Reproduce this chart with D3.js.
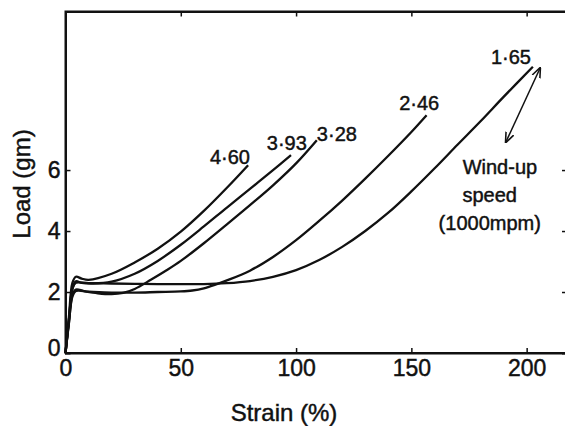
<!DOCTYPE html>
<html><head><meta charset="utf-8">
<script src="https://cdn.jsdelivr.net/npm/d3@7"></script>
<style>body{margin:0;background:#fff}svg{display:block}text{font-family:"Liberation Sans",Arial,sans-serif;fill:#111;stroke:#111;stroke-width:0.45px}</style>
</head><body><svg id="c" width="565" height="426"></svg>
<script>
const xTicks = [0, 50, 100, 150, 200];
const yTicks = [0, 2, 4, 6];
const speeds = ["4·60", "3·93", "3·28", "2·46", "1·65"];
const strain460 = [0,1.5,3,4.5,7,10,20,30,40,50,60,70,79.2];
const load460   = [0,1.2,2.3,2.5,2.44,2.4,2.6,2.97,3.42,3.98,4.66,5.42,6.16];
const strain393 = [0,1.5,3,4.5,7,12,20,30,40,50,60,70,80,90,97.8];
const load393   = [0,1.1,2.1,2.35,2.3,2.28,2.34,2.6,3.02,3.55,4.15,4.77,5.38,6.0,6.49];
const strain328 = [0,1.5,3,4.5,8,14,20,25,30,37,44,50,60,70,80,90,100,109];
const load328   = [0,1.0,1.9,2.08,2.03,1.96,1.93,1.97,2.1,2.4,2.72,3.02,3.6,4.22,4.85,5.5,6.22,6.98];
const strain246 = [0,1.5,3,4.5,10,20,30,40,50,55,60,65,70,80,90,100,110,120,130,140,150,156.6];
const load246   = [0,1.0,1.85,2.03,2.01,1.98,1.98,2.0,2.02,2.05,2.12,2.24,2.38,2.7,3.15,3.7,4.33,5.0,5.72,6.47,7.25,7.8];
const strain165 = [0,1.5,3,4.5,10,20,30,40,50,60,70,80,90,100,110,120,130,140,150,160,170,180,190,202.7];
const load165   = [0,1.1,2.1,2.3,2.29,2.28,2.27,2.26,2.26,2.26,2.29,2.36,2.5,2.72,3.05,3.48,4.0,4.6,5.3,6.05,6.83,7.6,8.4,9.39];
const labelX = [71.3, 96, 117.7, 153.4, 193.2];
const labelY = [6.43, 6.89, 7.18, 8.2, 9.7];
const noteLines = ["Wind-up", "speed", "(1000mpm)"];
const noteX = [188.4, 184, 184];
const noteY = [6.1, 5.18, 4.26];
const arrowX = [205.8, 191];
const arrowY = [9.34, 6.92];

const svg = d3.select("#c");
const x = d3.scaleLinear().domain([0, 217.5]).range([65.5, 567]);
const y = d3.scaleLinear().domain([0, 11.2]).range([353, 11.5]);

const defs = svg.append("defs");
defs.append("marker").attr("id","ah").attr("viewBox","0 0 10 10").attr("refX",9).attr("refY",5)
  .attr("markerWidth",7).attr("markerHeight",7).attr("orient","auto-start-reverse")
  .append("path").attr("d","M0,1 L10,5 L0,9").attr("fill","none").attr("stroke","#111").attr("stroke-width",1.5);

// frame
svg.append("rect").attr("x", x(0)).attr("y", y(11.2)).attr("width", x(217.5)-x(0)).attr("height", y(0)-y(11.2))
  .attr("fill","none").attr("stroke","#111").attr("stroke-width",2);

// axes with inward ticks
const gx = svg.append("g").attr("transform",`translate(0,${y(0)})`)
  .call(d3.axisBottom(x).tickValues(xTicks).tickSize(-5).tickPadding(7).tickFormat(d3.format("d")));
const gxt = svg.append("g").attr("transform",`translate(0,${y(11.2)})`)
  .call(d3.axisTop(x).tickValues(xTicks.slice(1)).tickSize(-5).tickFormat(""));
const gy = svg.append("g").attr("transform",`translate(${x(0)},0)`)
  .call(d3.axisLeft(y).tickValues(yTicks).tickSize(-5).tickPadding(5).tickFormat(d3.format("d")));
const gyr = svg.append("g").attr("transform",`translate(${x(217.5)},0)`)
  .call(d3.axisRight(y).tickValues(yTicks.slice(1)).tickSize(-5).tickFormat(""));
[gx,gxt,gy,gyr].forEach(g=>{
  g.select(".domain").attr("stroke","#111").attr("stroke-width",2);
  g.selectAll(".tick line").attr("stroke","#111").attr("stroke-width",1.5);
  g.selectAll("text").attr("font-size",23).attr("fill","#111").attr("font-family","Liberation Sans, Arial, sans-serif");
});
gy.selectAll(".tick").filter(d=>d===0).select("text").attr("dy","0.1em");
gy.selectAll(".tick line").filter(d=>d===0).remove();
gx.selectAll(".tick line").filter(d=>d===0).remove();

// curves
const series = [[strain460,load460],[strain393,load393],[strain328,load328],[strain246,load246],[strain165,load165]];
const line = d3.line().x(d=>x(d[0])).y(d=>y(d[1])).curve(d3.curveCatmullRom.alpha(0.5));
series.forEach(([sx,sy])=>{
  svg.append("path").datum(sx.map((v,i)=>[v,sy[i]])).attr("d",line)
    .attr("fill","none").attr("stroke","#111").attr("stroke-width",2.3).attr("stroke-linejoin","round");
});

// labels
speeds.forEach((s,i)=>{
  svg.append("text").attr("x",x(labelX[i])).attr("y",y(labelY[i])).attr("text-anchor","middle")
    .attr("dominant-baseline","central").attr("font-size",20).text(s);
});
noteLines.forEach((s,i)=>{
  svg.append("text").attr("x",x(noteX[i])).attr("y",y(noteY[i])).attr("text-anchor","middle")
    .attr("dominant-baseline","central").attr("font-size",20).text(s);
});
svg.append("line").attr("x1",x(arrowX[0])).attr("y1",y(arrowY[0])).attr("x2",x(arrowX[1])).attr("y2",y(arrowY[1]))
  .attr("stroke","#111").attr("stroke-width",1.5).attr("marker-start","url(#ah)").attr("marker-end","url(#ah)");

// axis titles
svg.append("text").attr("x",284).attr("y",412).attr("text-anchor","middle").attr("dominant-baseline","central")
  .attr("font-size",24).text("Strain (%)");
svg.append("text").attr("transform","translate(21,184) rotate(-90)").attr("text-anchor","middle")
  .attr("dominant-baseline","central").attr("font-size",24).text("Load (gm)");
</script></body></html>
